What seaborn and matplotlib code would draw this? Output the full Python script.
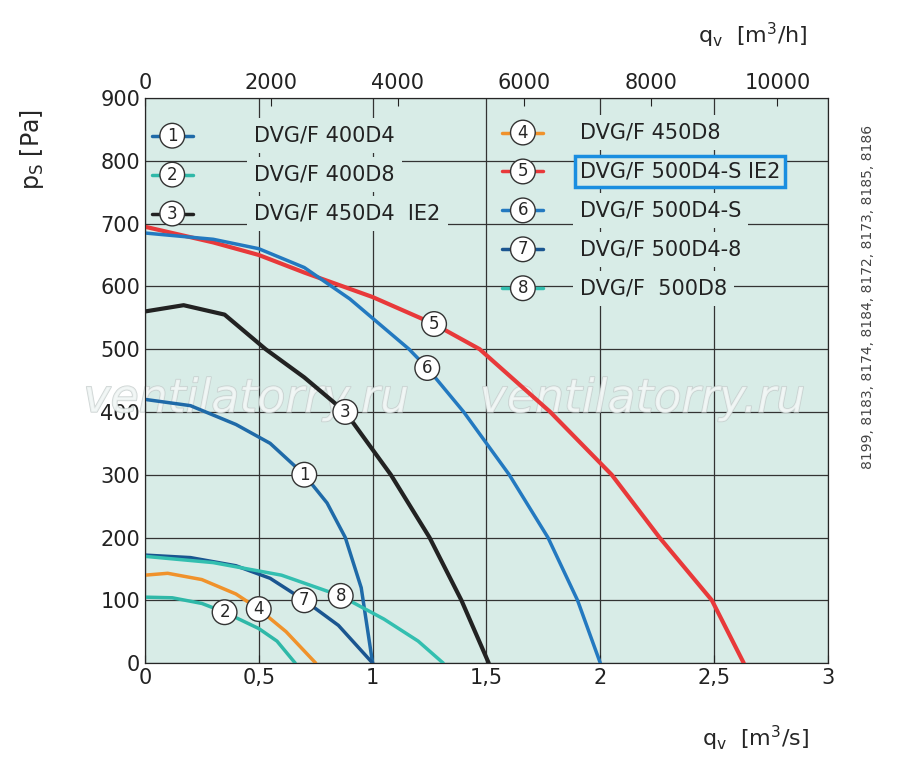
import numpy as np
import matplotlib
matplotlib.use("Agg")
import matplotlib.pyplot as plt
import matplotlib.patheffects as pe
import seaborn as sns
import pandas as pd

sns.set_style("white")
plt.rcParams['font.family'] = ['DejaVu Sans']

names = ['DVG/F 400D4', 'DVG/F 400D8', 'DVG/F 450D4  IE2', 'DVG/F 450D8',
         'DVG/F 500D4-S IE2', 'DVG/F 500D4-S', 'DVG/F 500D4-8', 'DVG/F  500D8']
colors = ['#1f6aa8', '#2fb8a8', '#222222', '#f0922b', '#e8393a', '#2379c0', '#1a5590', '#33bfb0']

q1 = [0, 0.2, 0.4, 0.55, 0.7, 0.8, 0.88, 0.95, 1.0]
p1 = [420, 410, 380, 350, 300, 255, 200, 120, 0]
q2 = [0, 0.12, 0.25, 0.35, 0.5, 0.58, 0.66]
p2 = [105, 104, 95, 81, 55, 35, 0]
q3 = [0, 0.17, 0.35, 0.53, 0.7, 0.88, 1.08, 1.25, 1.39, 1.51]
p3 = [560, 570, 555, 500, 455, 400, 300, 200, 100, 0]
q4 = [0, 0.1, 0.25, 0.4, 0.5, 0.62, 0.75]
p4 = [140, 143, 133, 110, 86, 50, 0]
q5 = [0, 0.3, 0.5, 0.7, 1.0, 1.27, 1.47, 1.78, 2.05, 2.26, 2.49, 2.63]
p5 = [695, 670, 650, 622, 583, 540, 500, 400, 300, 200, 100, 0]
q6 = [0, 0.3, 0.5, 0.7, 0.9, 1.16, 1.24, 1.4, 1.6, 1.77, 1.9, 2.0]
p6 = [685, 675, 660, 630, 580, 500, 470, 400, 300, 200, 100, 0]
q7 = [0, 0.2, 0.4, 0.55, 0.7, 0.85, 1.0]
p7 = [172, 168, 155, 135, 100, 60, 0]
q8 = [0, 0.3, 0.6, 0.86, 1.05, 1.2, 1.31]
p8 = [170, 160, 140, 107, 70, 35, 0]
curves = [(q1, p1), (q2, p2), (q3, p3), (q4, p4), (q5, p5), (q6, p6), (q7, p7), (q8, p8)]
label_idx = [4, 3, 5, 4, 5, 6, 4, 3]

bg = '#d8ece7'
fig = plt.figure(figsize=(9, 7.81), dpi=100)
ax = fig.add_axes([0.161, 0.151, 0.759, 0.7235])
ax.set_facecolor(bg)
ax.set_xlim(0, 3)
ax.set_ylim(0, 900)
ax.set_xticks(np.arange(0, 3.01, 0.5))
ax.set_xticklabels(['0', '0,5', '1', '1,5', '2', '2,5', '3'])
ax.set_yticks(np.arange(0, 901, 100))
ax.grid(True, color='#333333', lw=0.9)
ax.set_axisbelow(True)
for s in ax.spines.values():
    s.set_color('#333333')
ax.tick_params(labelsize=15, colors='#222222', direction='in', length=6)
ax.set_yticks(np.arange(0, 901, 20), minor=True)
ax.tick_params(which='minor', direction='in', length=3)

for i, ((q, p), c) in enumerate(zip(curves, colors)):
    df = pd.DataFrame({'q': q, 'p': p})
    lw = 3 if i in (2, 4) else 2.5
    sns.lineplot(data=df, x='q', y='p', ax=ax, color=c, lw=lw, sort=False, zorder=3)
    j = label_idx[i]
    ax.text(q[j], p[j], str(i + 1), ha='center', va='center', fontsize=12, zorder=5,
            bbox=dict(boxstyle='circle,pad=0.2', fc='white', ec='#333333', lw=1))
ax.set_xlabel('')
ax.set_ylabel('')

# legend
for i in range(8):
    if i < 3:
        x0, y0 = 0.12, 840 - i * 62
        tx = 0.48
    else:
        x0, y0 = 1.66, 845 - (i - 3) * 62
        tx = 1.91
    ax.plot([x0 - 0.09, x0 + 0.09], [y0, y0], color=colors[i], lw=2.5, zorder=4)
    ax.text(x0, y0, str(i + 1), ha='center', va='center', fontsize=12, zorder=5,
            bbox=dict(boxstyle='circle,pad=0.2', fc='white', ec='#333333', lw=1))
    if i == 4:
        bb = dict(boxstyle='square,pad=0.25', fc=bg, ec='#1a8ee0', lw=2.5)
    else:
        bb = dict(boxstyle='square,pad=0.35', fc=bg, ec='none')
    ax.text(tx, y0, names[i], ha='left', va='center', fontsize=15, color='#222222',
            zorder=5, bbox=bb)

# watermark
for xw in (-0.27, 1.47):
    ax.text(xw, 420, 'ventilatorry.ru', fontsize=33, style='italic', color='#f2f7f6',
            alpha=0.8, ha='left', va='center', zorder=2, clip_on=False,
            path_effects=[pe.withStroke(linewidth=1.2, foreground='#c4cccb')])

top = ax.twiny()
top.set_xlim(0, 3 * 3600)
top.set_xticks(np.arange(0, 10001, 2000))
top.tick_params(labelsize=15, colors='#222222', direction='in', length=6)

fig.text(0.775, 0.945, r'q$_\mathregular{v}$  [m$^\mathregular{3}$/h]', fontsize=16, ha='left')
fig.text(0.78, 0.045, r'q$_\mathregular{v}$  [m$^\mathregular{3}$/s]', fontsize=16, ha='left')
fig.text(0.035, 0.86, r'p$_\mathregular{S}$ [Pa]', fontsize=17, rotation=90, ha='center', va='top')
fig.text(0.965, 0.62, '8199, 8183, 8174, 8184, 8172, 8173, 8185, 8186', fontsize=10,
         rotation=90, ha='center', va='center', color='#444444')

fig.savefig('out.png', dpi=100, facecolor='white')
